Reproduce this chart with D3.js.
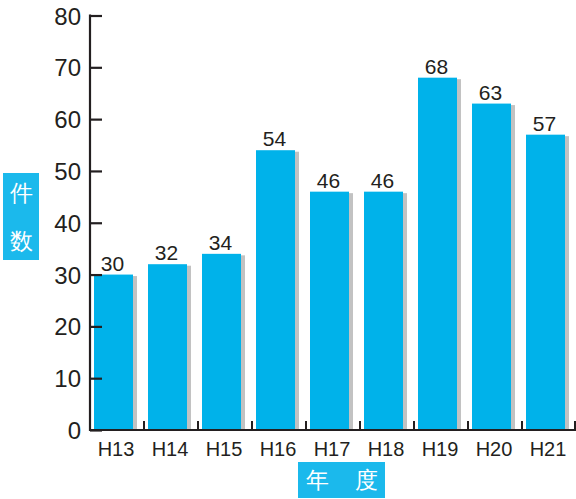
<!DOCTYPE html>
<html><head><meta charset="utf-8">
<script src="https://cdn.jsdelivr.net/npm/d3@7"></script>
<style>
html,body{margin:0;padding:0;background:#fff;}
svg{display:block;}
text{font-family:"Liberation Sans",Arial,sans-serif;}
</style></head>
<body>
<svg id="chart" width="576" height="499"></svg>
<script>
const categories = ["H13","H14","H15","H16","H17","H18","H19","H20","H21"];
const values = [30,32,34,54,46,46,68,63,57];
const yTicks = [0,10,20,30,40,50,60,70,80];
const yLabelChars = ["件","数"];
const xLabelChars = ["年","度"];

const svg = d3.select("#chart");
const x = d3.scaleBand().domain(categories).range([90, 576]).padding(0);
const y = d3.scaleLinear().domain([0, 80]).range([430, 15.5]);
const barColor = "#00b2ea";
const shadowColor = "#c2c2c2";
const axisColor = "#231f20";

const bw = x.bandwidth();
const barOff = 4, barW = 39;

// shadows
svg.append("g").selectAll("rect").data(categories).join("rect")
  .attr("x", (d) => x(d) + barOff + 4)
  .attr("y", (d,i) => y(values[i]) + 1.5)
  .attr("width", barW)
  .attr("height", (d,i) => y(0) - y(values[i]) - 1.5)
  .attr("fill", shadowColor);
// bars
svg.append("g").selectAll("rect").data(categories).join("rect")
  .attr("x", (d) => x(d) + barOff)
  .attr("y", (d,i) => y(values[i]))
  .attr("width", barW)
  .attr("height", (d,i) => y(0) - y(values[i]))
  .attr("fill", barColor);
// value labels
svg.append("g").selectAll("text").data(categories).join("text")
  .attr("x", (d) => x(d) + barOff + barW/2 - 1)
  .attr("y", (d,i) => y(values[i]) - 4)
  .attr("text-anchor", "middle")
  .attr("font-size", 21)
  .attr("fill", "#231f20")
  .text((d,i) => values[i]);

// y axis
const yAxis = d3.axisRight(y).tickValues(yTicks).tickSize(12).tickFormat("");
const gy = svg.append("g").attr("transform", "translate(90,0)").call(yAxis);
gy.select(".domain").remove();
gy.selectAll("line").attr("stroke", axisColor).attr("stroke-width", 2.2);
svg.append("line").attr("x1", 90).attr("x2", 90).attr("y1", y(80) - 1).attr("y2", y(0) + 1)
  .attr("stroke", axisColor).attr("stroke-width", 2.2);
svg.append("g").selectAll("text").data(yTicks).join("text")
  .attr("x", 81).attr("y", (d) => y(d) + 9)
  .attr("text-anchor", "end")
  .attr("font-size", 24)
  .attr("fill", "#231f20")
  .text((d) => d);

// x axis
svg.append("line").attr("x1", 89).attr("x2", 576).attr("y1", y(0)).attr("y2", y(0))
  .attr("stroke", axisColor).attr("stroke-width", 2.2);
svg.append("g").selectAll("line").data(categories).join("line")
  .attr("x1", (d,i) => x(d) + bw - (i === categories.length - 1 ? 1 : 0))
  .attr("x2", (d,i) => x(d) + bw - (i === categories.length - 1 ? 1 : 0))
  .attr("y1", y(0) - 9).attr("y2", y(0))
  .attr("stroke", axisColor).attr("stroke-width", 2);
svg.append("g").selectAll("text").data(categories).join("text")
  .attr("x", (d) => x(d) + bw/2 - 1)
  .attr("y", y(0) + 26)
  .attr("text-anchor", "middle")
  .attr("font-size", 20)
  .attr("fill", "#231f20")
  .text((d) => d);

// y label box
svg.append("rect").attr("x", 3).attr("y", 173).attr("width", 36).attr("height", 87).attr("fill", "#1bb9ec");
svg.append("g").selectAll("text").data(yLabelChars).join("text")
  .attr("x", 21).attr("y", (d,i) => 201 + i*48)
  .attr("text-anchor", "middle")
  .attr("font-size", 23)
  .attr("font-weight", 500)
  .attr("font-family", "'Noto Sans CJK JP',sans-serif")
  .attr("fill", "#fff")
  .text((d) => d);

// x label box
svg.append("rect").attr("x", 298).attr("y", 462).attr("width", 87).attr("height", 36).attr("fill", "#1bb9ec");
svg.append("g").selectAll("text").data(xLabelChars).join("text")
  .attr("x", (d,i) => 317.5 + i*48.5).attr("y", 488)
  .attr("text-anchor", "middle")
  .attr("font-size", 23)
  .attr("font-weight", 500)
  .attr("font-family", "'Noto Sans CJK JP',sans-serif")
  .attr("fill", "#fff")
  .text((d) => d);
</script>
</body></html>
